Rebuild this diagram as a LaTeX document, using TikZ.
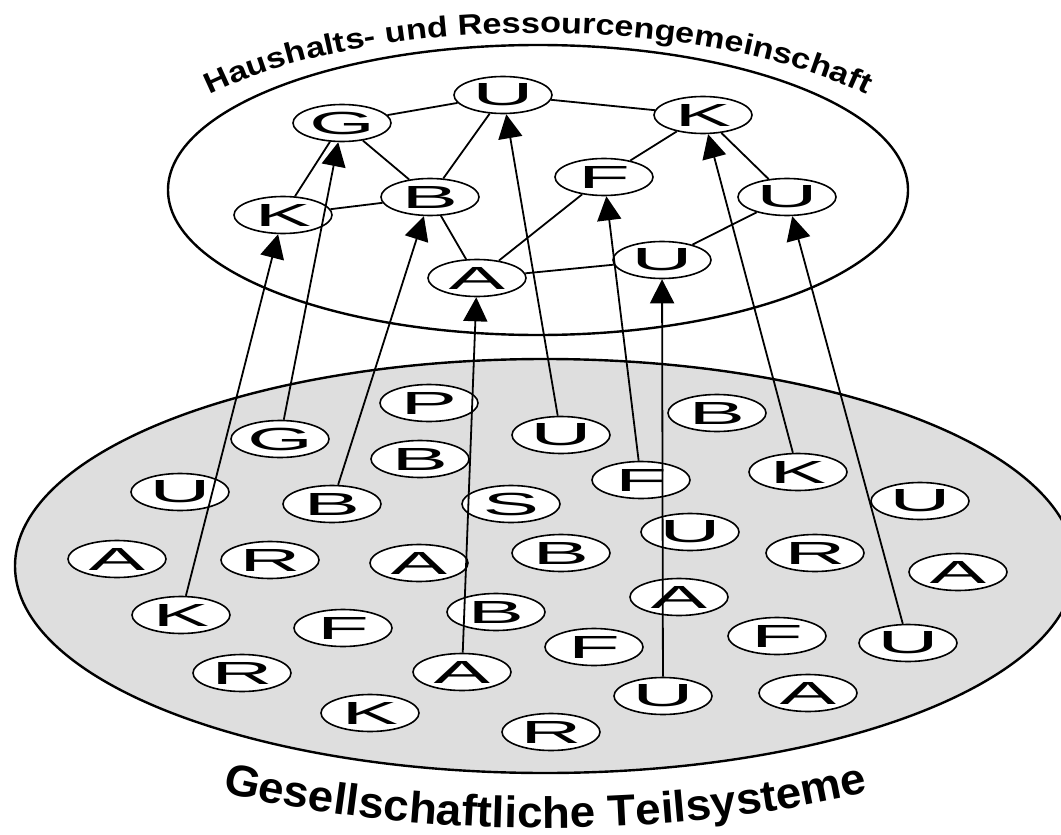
\documentclass[tikz,border=0pt]{standalone}
\usepackage{fontspec}
\setmainfont{Liberation Sans}
\newfontfamily\nodefnt[FakeStretch=2.65]{Liberation Sans}
\newfontfamily\ttlfnt[FakeStretch=1.18]{Liberation Sans}
\newfontfamily\subfnt[FakeStretch=1.04]{Liberation Sans}
\usetikzlibrary{shapes.geometric,arrows.meta,decorations.text}
\tikzset{
  nd/.style={ellipse, draw=black, fill=white, line width=1.6pt,
    minimum width=98pt, minimum height=37pt, inner sep=0pt,
    font=\nodefnt\fontsize{32}{32}\selectfont},
  link/.style={line width=1.8pt},
  up/.style={line width=1.8pt, -{Triangle[length=24pt,width=24pt]}},
  bigell/.style={line width=2.4pt}
}
\begin{document}
\begin{tikzpicture}[x=1pt,y=1pt]
\useasboundingbox (0,0) rectangle (1061,-835);
\clip (0,0) rectangle (1061,-835);
\fill[white] (0,0) rectangle (1061,-835);
% large ellipses
\draw[bigell, fill=black!13] (545,-566) ellipse [x radius=530, y radius=207];
\draw[bigell] (538,-190) ellipse [x radius=370, y radius=145];
% titles
\path[decorate, decoration={text along path, text align=center,
  text={|\ttlfnt\bfseries\fontsize{29}{29}\selectfont|Haushalts- und Ressourcengemeinschaft}}]
  (538,-190) ++(170:413 and 157) arc[start angle=170, end angle=10, x radius=413, y radius=157];
\path[decorate, decoration={text along path, text align=center,
  text={|\subfnt\bfseries\fontsize{44}{44}\selectfont|Gesellschaftliche Teilsysteme}}]
  (545,-566) ++(225:640 and 262) arc[start angle=225, end angle=315, x radius=640, y radius=262];
% top nodes
\node[nd] (tU)  at (503,-95)  {U};
\node[nd] (tG)  at (342,-123) {G};
\node[nd] (tK)  at (703,-115) {K};
\node[nd] (tKl) at (283,-215) {K};
\node[nd] (tB)  at (430,-197) {B};
\node[nd] (tF)  at (604,-177) {F};
\node[nd] (tUr) at (787,-197) {U};
\node[nd] (tUm) at (662,-260) {U};
\node[nd] (tA)  at (477,-278) {A};
% top links
\draw[link] (tG) -- (tU);
\draw[link] (tU) -- (tK);
\draw[link] (tG) -- (tKl);
\draw[link] (tG) -- (tB);
\draw[link] (tKl) -- (tB);
\draw[link] (tB) -- (tU);
\draw[link] (tB) -- (tA);
\draw[link] (tA) -- (tF);
\draw[link] (tF) -- (tK);
\draw[link] (tK) -- (tUr);
\draw[link] (tA) -- (tUm);
\draw[link] (tUm) -- (tUr);
% bottom nodes
\node[nd] (b1)  at (280,-439) {G};
\node[nd] (b2)  at (429,-403) {P};
\node[nd] (b3)  at (420,-459) {B};
\node[nd] (b4)  at (180,-492) {U};
\node[nd] (b5)  at (332,-504) {B};
\node[nd] (b6)  at (511,-504) {S};
\node[nd] (b7)  at (117,-559) {A};
\node[nd] (b8)  at (270,-560) {R};
\node[nd] (b9)  at (419,-563) {A};
\node[nd] (b10) at (181,-615) {K};
\node[nd] (b11) at (343,-628) {F};
\node[nd] (b12) at (496,-612) {B};
\node[nd] (b13) at (242,-673) {R};
\node[nd] (b14) at (462,-672) {A};
\node[nd] (b15) at (370,-713) {K};
\node[nd] (b16) at (551,-732) {R};
\node[nd] (b17) at (561,-435) {U};
\node[nd] (b18) at (717,-413) {B};
\node[nd] (b19) at (641,-480) {F};
\node[nd] (b20) at (798,-472) {K};
\node[nd] (b21) at (920,-501) {U};
\node[nd] (b22) at (690,-532) {U};
\node[nd] (b23) at (561,-553) {B};
\node[nd] (b24) at (815,-553) {R};
\node[nd] (b25) at (958,-572) {A};
\node[nd] (b26) at (679,-597) {A};
\node[nd] (b27) at (594,-647) {F};
\node[nd] (b28) at (777,-636) {F};
\node[nd] (b29) at (908,-643) {U};
\node[nd] (b30) at (663,-696) {U};
\node[nd] (b31) at (808,-693) {A};
% arrows
\draw[up] (b10) -- (tKl);
\draw[up] (b1)  -- (tG);
\draw[up] (b5)  -- (tB);
\draw[up] (b14) -- (tA);
\draw[up] (b17) -- (tU);
\draw[up] (b19) -- (tF);
\draw[up] (b30) -- (tUm);
\draw[up] (b20) -- (tK);
\draw[up] (b29) -- (tUr);
\end{tikzpicture}
\end{document}
